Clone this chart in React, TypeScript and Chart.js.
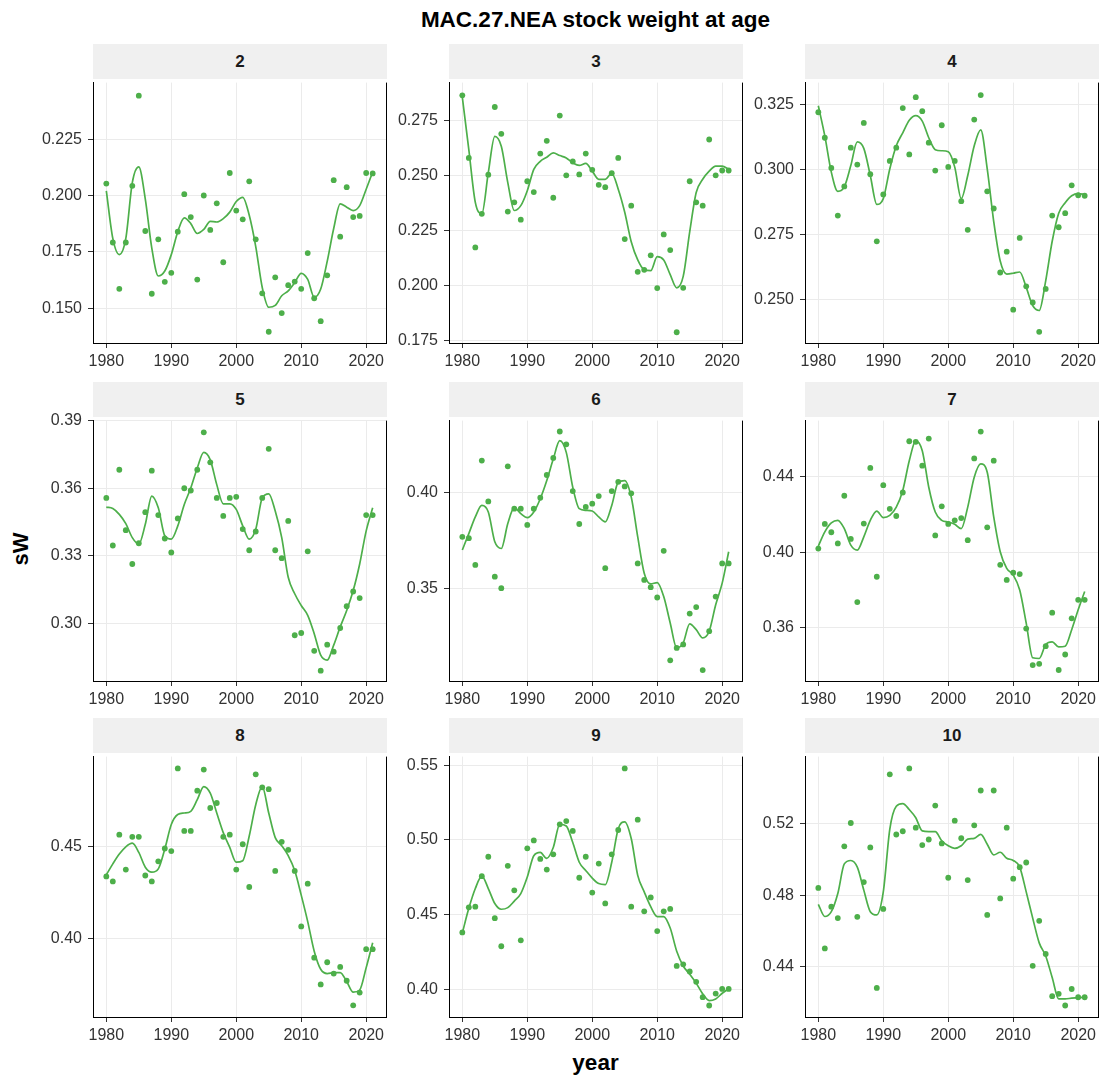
import React, { useEffect, useRef } from 'react';
import { Chart, registerables } from 'chart.js';

Chart.register(...registerables);

// ---------------- data ----------------
const YEARS = [
  1980, 1981, 1982, 1983, 1984, 1985, 1986, 1987, 1988, 1989,
  1990, 1991, 1992, 1993, 1994, 1995, 1996, 1997, 1998, 1999,
  2000, 2001, 2002, 2003, 2004, 2005, 2006, 2007, 2008, 2009,
  2010, 2011, 2012, 2013, 2014, 2015, 2016, 2017, 2018, 2019,
  2020, 2021,
];

const X_TICKS = [1980, 1990, 2000, 2010, 2020];

const AGE2_OBS = [0.2054, 0.1792, 0.1586, 0.1792, 0.2044, 0.2445, 0.1843, 0.1564, 0.1806, 0.1617, 0.1657, 0.1840, 0.2007, 0.1905, 0.1627, 0.2001, 0.1848, 0.1966, 0.1704, 0.2101, 0.1934, 0.1895, 0.2064, 0.1806, 0.1566, 0.1395, 0.1637, 0.1478, 0.1602, 0.1618, 0.1586, 0.1745, 0.1544, 0.1442, 0.1646, 0.2069, 0.1818, 0.2038, 0.1905, 0.1910, 0.2101, 0.2099];
const AGE2_FIT = [0.2022, 0.1810, 0.1738, 0.1810, 0.2058, 0.2128, 0.1985, 0.1767, 0.1643, 0.1665, 0.1738, 0.1840, 0.1901, 0.1876, 0.1832, 0.1850, 0.1886, 0.1883, 0.1898, 0.1927, 0.1974, 0.1993, 0.1913, 0.1774, 0.1592, 0.1504, 0.1512, 0.1555, 0.1577, 0.1614, 0.1655, 0.1628, 0.1548, 0.1585, 0.1708, 0.1854, 0.1964, 0.1949, 0.1934, 0.1956, 0.2029, 0.2105];

const AGE3_OBS = [0.2864, 0.2579, 0.2172, 0.2325, 0.2503, 0.2811, 0.2689, 0.2335, 0.2377, 0.2298, 0.2473, 0.2424, 0.2599, 0.2657, 0.2398, 0.2772, 0.2500, 0.2563, 0.2504, 0.2599, 0.2525, 0.2457, 0.2446, 0.2510, 0.2579, 0.2210, 0.2362, 0.2061, 0.2070, 0.2136, 0.1987, 0.2231, 0.2160, 0.1786, 0.1988, 0.2473, 0.2377, 0.2362, 0.2663, 0.2500, 0.2522, 0.2522];
const AGE3_FIT = [0.2856, 0.2617, 0.2377, 0.2325, 0.2512, 0.2677, 0.2632, 0.2467, 0.2340, 0.2362, 0.2430, 0.2527, 0.2564, 0.2582, 0.2602, 0.2590, 0.2579, 0.2557, 0.2545, 0.2554, 0.2519, 0.2482, 0.2482, 0.2509, 0.2437, 0.2332, 0.2198, 0.2115, 0.2070, 0.2066, 0.2130, 0.2115, 0.2048, 0.1988, 0.2040, 0.2243, 0.2422, 0.2482, 0.2519, 0.2542, 0.2542, 0.2527];

const AGE4_OBS = [0.3219, 0.3121, 0.3005, 0.2822, 0.2934, 0.3083, 0.3018, 0.3178, 0.2981, 0.2723, 0.2903, 0.3032, 0.3083, 0.3235, 0.3057, 0.3277, 0.3223, 0.3102, 0.2995, 0.3169, 0.3009, 0.3032, 0.2877, 0.2767, 0.3191, 0.3285, 0.2915, 0.2849, 0.2603, 0.2683, 0.2460, 0.2736, 0.2550, 0.2488, 0.2375, 0.2540, 0.2822, 0.2777, 0.2831, 0.2938, 0.2900, 0.2898];
const AGE4_FIT = [0.3244, 0.3128, 0.2989, 0.2915, 0.2932, 0.3014, 0.3105, 0.3080, 0.2976, 0.2865, 0.2887, 0.3001, 0.3090, 0.3140, 0.3188, 0.3206, 0.3185, 0.3121, 0.3075, 0.3071, 0.3067, 0.3008, 0.2887, 0.2976, 0.3090, 0.3151, 0.3001, 0.2799, 0.2647, 0.2597, 0.2600, 0.2605, 0.2546, 0.2476, 0.2457, 0.2571, 0.2723, 0.2831, 0.2871, 0.2898, 0.2906, 0.2903];

const AGE5_OBS = [0.3557, 0.3346, 0.3682, 0.3414, 0.3264, 0.3356, 0.3494, 0.3678, 0.3481, 0.3377, 0.3315, 0.3466, 0.3600, 0.3590, 0.3682, 0.3848, 0.3715, 0.3557, 0.3477, 0.3557, 0.3562, 0.3419, 0.3325, 0.3408, 0.3557, 0.3775, 0.3325, 0.3290, 0.3455, 0.2948, 0.2958, 0.3320, 0.2879, 0.2791, 0.2906, 0.2875, 0.2980, 0.3077, 0.3142, 0.3113, 0.3481, 0.3481];
const AGE5_FIT = [0.3516, 0.3510, 0.3484, 0.3443, 0.3381, 0.3352, 0.3440, 0.3565, 0.3513, 0.3389, 0.3374, 0.3433, 0.3528, 0.3601, 0.3690, 0.3759, 0.3726, 0.3616, 0.3531, 0.3531, 0.3506, 0.3433, 0.3374, 0.3418, 0.3557, 0.3575, 0.3499, 0.3381, 0.3205, 0.3132, 0.3080, 0.3036, 0.2955, 0.2860, 0.2838, 0.2904, 0.2985, 0.3058, 0.3146, 0.3264, 0.3411, 0.3513];

const AGE6_OBS = [0.3770, 0.3763, 0.3623, 0.4168, 0.3955, 0.3562, 0.3502, 0.4138, 0.3917, 0.3917, 0.3832, 0.3917, 0.3974, 0.4093, 0.4182, 0.4320, 0.4253, 0.4009, 0.3837, 0.3926, 0.3943, 0.3983, 0.3606, 0.4009, 0.4057, 0.4033, 0.3997, 0.3631, 0.3545, 0.3507, 0.3453, 0.3697, 0.3125, 0.3190, 0.3208, 0.3369, 0.3403, 0.3074, 0.3277, 0.3458, 0.3631, 0.3631];
const AGE6_FIT = [0.3701, 0.3787, 0.3874, 0.3934, 0.3900, 0.3744, 0.3709, 0.3839, 0.3922, 0.3891, 0.3870, 0.3900, 0.3969, 0.4064, 0.4176, 0.4272, 0.4211, 0.4029, 0.3917, 0.3908, 0.3905, 0.3874, 0.3848, 0.3934, 0.4055, 0.4064, 0.3978, 0.3770, 0.3580, 0.3524, 0.3531, 0.3458, 0.3320, 0.3190, 0.3216, 0.3315, 0.3285, 0.3242, 0.3277, 0.3415, 0.3528, 0.3692];

const AGE7_OBS = [0.4019, 0.4149, 0.4105, 0.4046, 0.4298, 0.4070, 0.3736, 0.4151, 0.4445, 0.3870, 0.4354, 0.4229, 0.4191, 0.4315, 0.4586, 0.4583, 0.4457, 0.4600, 0.4088, 0.4242, 0.4149, 0.4168, 0.4180, 0.4063, 0.4495, 0.4637, 0.4131, 0.4483, 0.3933, 0.3853, 0.3891, 0.3884, 0.3596, 0.3403, 0.3410, 0.3503, 0.3680, 0.3377, 0.3459, 0.3650, 0.3748, 0.3748];
const AGE7_FIT = [0.4032, 0.4107, 0.4154, 0.4168, 0.4124, 0.4037, 0.4011, 0.4081, 0.4168, 0.4217, 0.4182, 0.4194, 0.4238, 0.4326, 0.4483, 0.4588, 0.4536, 0.4343, 0.4212, 0.4168, 0.4159, 0.4147, 0.4124, 0.4238, 0.4396, 0.4466, 0.4422, 0.4186, 0.4002, 0.3914, 0.3879, 0.3800, 0.3625, 0.3442, 0.3438, 0.3512, 0.3526, 0.3499, 0.3503, 0.3590, 0.3695, 0.3792];

const AGE8_OBS = [0.4338, 0.4311, 0.4564, 0.4375, 0.4552, 0.4552, 0.4343, 0.4311, 0.4420, 0.4489, 0.4475, 0.4922, 0.4584, 0.4584, 0.4802, 0.4916, 0.4708, 0.4735, 0.4552, 0.4564, 0.4375, 0.4512, 0.4281, 0.4890, 0.4820, 0.4810, 0.4368, 0.4525, 0.4482, 0.4368, 0.4068, 0.4299, 0.3899, 0.3754, 0.3874, 0.3813, 0.3849, 0.3774, 0.3641, 0.3710, 0.3945, 0.3945];
const AGE8_FIT = [0.4347, 0.4406, 0.4459, 0.4498, 0.4518, 0.4468, 0.4388, 0.4361, 0.4379, 0.4486, 0.4619, 0.4673, 0.4681, 0.4690, 0.4753, 0.4824, 0.4788, 0.4681, 0.4575, 0.4495, 0.4415, 0.4423, 0.4557, 0.4726, 0.4824, 0.4681, 0.4548, 0.4504, 0.4450, 0.4370, 0.4237, 0.4094, 0.3934, 0.3836, 0.3813, 0.3818, 0.3818, 0.3770, 0.3712, 0.3724, 0.3845, 0.3979];

const AGE9_OBS = [0.4380, 0.4548, 0.4552, 0.4757, 0.4887, 0.4475, 0.4287, 0.4826, 0.4662, 0.4327, 0.4943, 0.4996, 0.4872, 0.4801, 0.4903, 0.5104, 0.5126, 0.5060, 0.4746, 0.4887, 0.4647, 0.4841, 0.4574, 0.4903, 0.5066, 0.5479, 0.4552, 0.5135, 0.4521, 0.4614, 0.4389, 0.4521, 0.4537, 0.4155, 0.4166, 0.4118, 0.4049, 0.3946, 0.3890, 0.3970, 0.4001, 0.4001];
const AGE9_FIT = [0.4376, 0.4541, 0.4674, 0.4757, 0.4674, 0.4574, 0.4535, 0.4546, 0.4590, 0.4640, 0.4751, 0.4894, 0.4916, 0.4876, 0.4949, 0.5104, 0.5093, 0.4982, 0.4850, 0.4795, 0.4744, 0.4707, 0.4700, 0.4850, 0.5075, 0.5121, 0.5009, 0.4762, 0.4651, 0.4552, 0.4486, 0.4486, 0.4409, 0.4254, 0.4155, 0.4100, 0.4040, 0.3968, 0.3923, 0.3934, 0.3972, 0.4001];

const AGE10_OBS = [0.4840, 0.4503, 0.4736, 0.4672, 0.5072, 0.5202, 0.4679, 0.4873, 0.5066, 0.4283, 0.4723, 0.5473, 0.5138, 0.5156, 0.5506, 0.5176, 0.5079, 0.5110, 0.5299, 0.5088, 0.4897, 0.5215, 0.5117, 0.4884, 0.5189, 0.5383, 0.4690, 0.5383, 0.4782, 0.5176, 0.4892, 0.4956, 0.4982, 0.4406, 0.4657, 0.4472, 0.4237, 0.4250, 0.4185, 0.4277, 0.4231, 0.4231];
const AGE10_FIT = [0.4749, 0.4681, 0.4708, 0.4809, 0.4974, 0.4993, 0.4956, 0.4828, 0.4708, 0.4690, 0.4818, 0.5167, 0.5295, 0.5310, 0.5277, 0.5231, 0.5158, 0.5154, 0.5154, 0.5103, 0.5075, 0.5061, 0.5075, 0.5112, 0.5116, 0.5139, 0.5084, 0.5024, 0.5039, 0.5006, 0.4993, 0.4956, 0.4818, 0.4672, 0.4534, 0.4461, 0.4341, 0.4222, 0.4222, 0.4226, 0.4228, 0.4231];

const AGE_LABELS = ['2', '3', '4', '5', '6', '7', '8', '9', '10'];
const OBS_SERIES = [AGE2_OBS, AGE3_OBS, AGE4_OBS, AGE5_OBS, AGE6_OBS, AGE7_OBS, AGE8_OBS, AGE9_OBS, AGE10_OBS];
const FIT_SERIES = [AGE2_FIT, AGE3_FIT, AGE4_FIT, AGE5_FIT, AGE6_FIT, AGE7_FIT, AGE8_FIT, AGE9_FIT, AGE10_FIT];

const Y_TICKS = [
  [0.15, 0.175, 0.2, 0.225],
  [0.175, 0.2, 0.225, 0.25, 0.275],
  [0.25, 0.275, 0.3, 0.325],
  [0.3, 0.33, 0.36, 0.39],
  [0.35, 0.4],
  [0.36, 0.4, 0.44],
  [0.4, 0.45],
  [0.4, 0.45, 0.5, 0.55],
  [0.44, 0.48, 0.52],
];

const Y_MIN = [0.1345, 0.1737, 0.2332, 0.2745, 0.3017, 0.3319, 0.3578, 0.3813, 0.4121];
const Y_MAX = [0.2503, 0.2922, 0.3333, 0.3900, 0.4377, 0.4695, 0.4986, 0.5558, 0.5572];

const X_MIN = 1977.95;
const X_MAX = 2023.05;

// ---------------- layout / style ----------------
const COL_LEFT = [93, 449, 805];
const ROW_TOP = [79, 417, 753];
const PW = 293;
const PH = 264;
const STRIP_H = 35;
const YW = 70;
const TP = 12;
const RP = 10;
const XH = 32;

const GREEN = '#4DAF4A';
const GRID = '#EBEBEB';
const TICK_TEXT = '#333333';
const FONT = "'Liberation Sans', Arial, Helvetica, sans-serif";

function decimalsOf(ticks: number[]): number {
  let d = 0;
  for (const t of ticks) {
    const s = String(t);
    const i = s.indexOf('.');
    if (i >= 0) d = Math.max(d, s.length - i - 1);
  }
  return d;
}

const rightBorder = {
  id: 'rightBorder',
  afterDraw(chart: any) {
    const { ctx, chartArea } = chart;
    const x = Math.round(chartArea.right - 0.5) + 0.5;
    ctx.save();
    ctx.strokeStyle = '#000000';
    ctx.lineWidth = 1;
    ctx.beginPath();
    ctx.moveTo(x, chartArea.top);
    ctx.lineTo(x, chartArea.bottom + 0.5);
    ctx.stroke();
    ctx.restore();
  },
};

function Panel({ idx }: { idx: number }) {
  const ref = useRef<HTMLCanvasElement | null>(null);
  const col = idx % 3;
  const row = Math.floor(idx / 3);
  const left = COL_LEFT[col];
  const top = ROW_TOP[row];
  const cw = YW + PW + RP;
  const ch = TP + PH + XH;

  useEffect(() => {
    if (!ref.current) return;
    const obs = OBS_SERIES[idx];
    const fit = FIT_SERIES[idx];
    const yTicks = Y_TICKS[idx];
    const dec = decimalsOf(yTicks);
    const chart = new Chart(ref.current, {
      type: 'scatter',
      data: {
        datasets: [
          {
            type: 'line',
            data: YEARS.map((x, i) => ({ x, y: fit[i] })),
            borderColor: GREEN,
            backgroundColor: GREEN,
            borderWidth: 1.7,
            pointRadius: 0,
            fill: false,
            cubicInterpolationMode: 'monotone',
            order: 0,
          } as any,
          {
            type: 'scatter',
            data: YEARS.map((x, i) => ({ x, y: obs[i] })),
            backgroundColor: GREEN,
            borderColor: GREEN,
            borderWidth: 0,
            pointRadius: 2.9,
            order: 1,
          } as any,
        ],
      },
      options: {
        responsive: false,
        animation: false,
        events: [],
        layout: { padding: { top: TP, right: RP, left: 0, bottom: 0 } },
        plugins: {
          legend: { display: false },
          tooltip: { enabled: false },
          title: { display: false },
        },
        scales: {
          x: {
            type: 'linear',
            min: X_MIN,
            max: X_MAX,
            afterBuildTicks: (s: any) => {
              s.ticks = X_TICKS.map((v) => ({ value: v }));
            },
            afterFit: (s: any) => {
              s.height = XH;
            },
            grid: {
              color: GRID,
              lineWidth: 1,
              tickColor: '#333333',
              tickLength: 5,
              tickWidth: 1,
            },
            border: { display: true, color: '#000000', width: 1 },
            ticks: {
              font: { family: FONT, size: 16 },
              color: TICK_TEXT,
              padding: 4,
              maxRotation: 0,
              autoSkip: false,
              callback: (v: any) => String(v),
            },
          },
          y: {
            type: 'linear',
            min: Y_MIN[idx],
            max: Y_MAX[idx],
            afterBuildTicks: (s: any) => {
              s.ticks = yTicks.map((v) => ({ value: v }));
            },
            afterFit: (s: any) => {
              s.width = YW;
            },
            grid: {
              color: GRID,
              lineWidth: 1,
              tickColor: '#333333',
              tickLength: 5,
              tickWidth: 1,
            },
            border: { display: true, color: '#000000', width: 1 },
            ticks: {
              font: { family: FONT, size: 16 },
              color: TICK_TEXT,
              padding: 6,
              autoSkip: false,
              callback: (v: any) => Number(v).toFixed(dec),
            },
          },
        },
      },
      plugins: [rightBorder],
    } as any);
    return () => chart.destroy();
  }, [idx]);

  return (
    <>
      <div
        style={{
          position: 'absolute',
          left,
          top: top - STRIP_H,
          width: PW + 1,
          height: STRIP_H,
          background: '#F0F0F0',
          display: 'flex',
          alignItems: 'center',
          justifyContent: 'center',
          fontFamily: FONT,
          fontWeight: 'bold',
          fontSize: 17,
          color: '#1A1A1A',
          lineHeight: 1,
        }}
      >
        {AGE_LABELS[idx]}
      </div>
      <canvas
        ref={ref}
        width={cw}
        height={ch}
        style={{
          position: 'absolute',
          left: left - YW,
          top: top - TP,
          width: cw,
          height: ch,
        }}
      />
    </>
  );
}

export default function App() {
  const centerX = COL_LEFT[0] + (COL_LEFT[2] + PW - COL_LEFT[0]) / 2;
  return (
    <div
      style={{
        position: 'absolute',
        left: 0,
        top: 0,
        width: 1101,
        height: 1079,
        overflow: 'hidden',
        background: '#FFFFFF',
        fontFamily: FONT,
      }}
    >
      <div
        style={{
          position: 'absolute',
          left: centerX,
          top: 20,
          transform: 'translate(-50%, -50%)',
          whiteSpace: 'nowrap',
          fontWeight: 'bold',
          fontSize: 22.5,
          lineHeight: 1,
          color: '#000000',
        }}
      >
        MAC.27.NEA stock weight at age
      </div>
      <div
        style={{
          position: 'absolute',
          left: 21,
          top: 549,
          transform: 'translate(-50%, -50%) rotate(-90deg)',
          whiteSpace: 'nowrap',
          fontWeight: 'bold',
          fontSize: 22,
          lineHeight: 1,
          color: '#000000',
        }}
      >
        sW
      </div>
      <div
        style={{
          position: 'absolute',
          left: centerX,
          top: 1063,
          transform: 'translate(-50%, -50%)',
          whiteSpace: 'nowrap',
          fontWeight: 'bold',
          fontSize: 22.5,
          lineHeight: 1,
          color: '#000000',
        }}
      >
        year
      </div>
      {AGE_LABELS.map((_, i) => (
        <Panel key={i} idx={i} />
      ))}
    </div>
  );
}
